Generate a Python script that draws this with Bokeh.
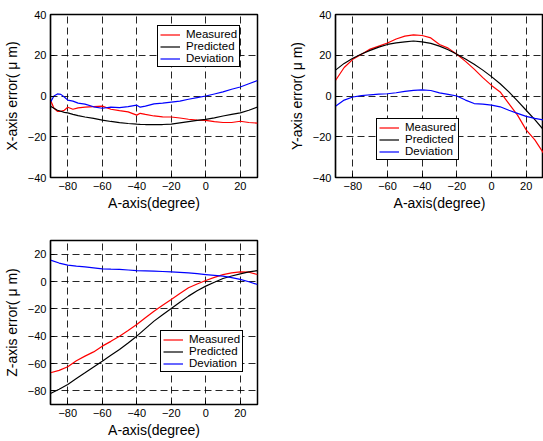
from bokeh.plotting import figure
from bokeh.layouts import column, row
from bokeh.models import Legend, LegendItem, FixedTicker
from bokeh.embed import file_html
from bokeh.resources import INLINE

# ---------------- data ----------------
a_x = [-90, -88, -86, -84, -82, -80, -77, -74, -70, -65, -60, -55, -50, -45, -40, -38, -35, -30, -25,
       -20, -15, -10, -5, 0, 5, 10, 15, 20, 25, 30]
x_measured = [-2, -6, -7.5, -7.5, -7, -5.5, -6.5, -5.8, -5.5, -5.2, -5, -6.5, -7.2, -7.8, -9.4, -8.5, -9, -9.8, -10.2,
              -10.3, -10.8, -11.4, -11.8, -12, -12.6, -13, -13, -12.4, -13, -13.3]
x_predicted = [-5, -6, -7, -7.5, -8, -8.3, -9, -9.6, -10.3, -11, -11.8, -12.5, -13.1, -13.5, -13.8, -13.9, -14, -14, -14,
               -13.8, -13.2, -12.6, -12, -11.5, -10.7, -9.8, -9, -8.3, -7, -5.4]
x_deviation = [-3, 0, 1, 0.8, -0.5, -2, -2.5, -3.5, -4, -5.3, -6, -5.5, -5.7, -5.2, -4.5, -5.5, -5, -3.9, -3.5,
               -3, -2.5, -1.6, -0.8, 0, 1, 2, 3.3, 4.4, 6, 7.6]

a_y = [-90, -85, -80, -75, -70, -65, -60, -55, -50, -45, -40, -35, -30, -25, -20, -15, -10, -5, 0, 5, 10, 15,
       20, 25, 30]
y_measured = [7.6, 14, 18, 20.5, 23, 24.5, 26, 28, 29.4, 30, 29.7, 28.5, 25.3, 23.5, 20.5, 17, 13.2, 9, 5.2, 2,
              -3.7, -9.4, -16.6, -21.5, -28]
y_predicted = [12.7, 16, 18.5, 20.6, 22.4, 24, 25.3, 26.1, 26.6, 27, 26.6, 25.8, 24.5, 22.7, 20.5, 18.2, 15.6, 12.7,
               9.5, 6, 2, -2.4, -7, -11.6, -16.6]
y_deviation = [-5, -2, -0.5, 0.2, 0.6, 0.9, 1.1, 1.6, 2.3, 2.8, 3, 2.7, 1.5, 0.8, 0, -2, -3.7, -4, -4.5, -5.3,
               -7, -8.5, -10, -11, -11.8]

a_z = [-90, -85, -80, -75, -70, -65, -60, -55, -50, -45, -40, -35, -30, -25, -20, -15, -10, -5, 0, 5, 10, 15,
       20, 25, 30]
z_measured = [-66.8, -65, -62.4, -58, -54.6, -51.5, -47.3, -43.8, -40, -35.8, -31.5, -26.5, -21.7, -17.3, -13.2,
              -8.8, -4.6, -1.8, 0.7, 3, 5, 6.3, 7, 6.8, 5.1]
z_predicted = [-82, -78.8, -75.4, -71, -66.8, -62.5, -58.3, -54, -49.8, -45, -40, -34.5, -29, -24.3, -19.8, -15.2,
               -10.7, -6.8, -3.4, -0.5, 2.2, 4, 5.6, 7, 8]
z_deviation = [15.6, 13.5, 12, 11.3, 10.7, 10, 9.3, 9, 8.8, 8.4, 8, 7.8, 7.6, 7.3, 7, 6.7, 6.3, 5.7, 5.1, 4.5,
               3.9, 2.8, 1.5, -0.2, -2.2]

x_ticks = [-80, -60, -40, -20, 0, 20]
series_names = ["Measured", "Predicted", "Deviation"]
series_colors = ["#ff0000", "#000000", "#0000ff"]

FONT = "Liberation Sans"


def make_fig(w, h, borders, yrange, yticks, ylabel, xs, series, legend_loc):
    left, right, top, bottom = borders
    p = figure(width=w, height=h, x_range=(-90, 30), y_range=yrange,
               output_backend="svg", toolbar_location=None,
               min_border_left=left, min_border_right=right,
               min_border_top=top, min_border_bottom=bottom)
    p.background_fill_color = "white"
    p.border_fill_color = "white"
    p.outline_line_color = "black"
    p.outline_line_width = 1.5
    p.outline_line_alpha = 1

    p.xaxis.ticker = FixedTicker(ticks=x_ticks)
    p.yaxis.ticker = FixedTicker(ticks=yticks)
    for ax in (p.xaxis[0], p.yaxis[0]):
        ax.axis_line_color = "black"
        ax.axis_line_width = 1.2
        ax.major_tick_in = 4
        ax.major_tick_out = 0
        ax.minor_tick_line_color = None
        ax.major_label_text_font = FONT
        ax.major_label_text_font_size = "11px"
        ax.major_label_text_color = "black"
        ax.axis_label_text_font = FONT
        ax.axis_label_text_font_size = "14px"
        ax.axis_label_text_font_style = "normal"
        ax.axis_label_text_color = "black"
        ax.major_label_standoff = 4
    p.xaxis.axis_label = "A-axis(degree)"
    p.xaxis.axis_label_standoff = 2
    p.yaxis.axis_label = ylabel
    p.yaxis.axis_label_standoff = 5

    for g in (p.xgrid[0], p.ygrid[0]):
        g.grid_line_color = "black"
        g.grid_line_alpha = 0.85
        g.grid_line_width = 1
        g.grid_line_dash = "7 4"

    items = []
    for name, color, ys in zip(series_names, series_colors, series):
        r = p.line(xs, ys, line_color=color, line_width=1.2)
        items.append(LegendItem(label=name, renderers=[r]))

    legend = Legend(items=items, location=legend_loc)
    legend.border_line_color = "black"
    legend.border_line_width = 1.5
    legend.border_line_alpha = 1
    legend.background_fill_alpha = 1
    legend.label_text_font = FONT
    legend.label_text_font_size = "11.5px"
    legend.label_text_color = "black"
    legend.label_text_line_height = 1.0
    legend.glyph_width = 20
    legend.glyph_height = 11
    legend.label_height = 11
    legend.spacing = 0
    legend.padding = 2
    legend.margin = 0
    legend.label_standoff = 6
    p.add_layout(legend, "center")
    return p


p1 = make_fig(272, 220, (49, 15, 14, 42), (-40, 40), [-40, -20, 0, 20, 40],
              "X-axis error( \u03bc m)", a_x, [x_measured, x_predicted, x_deviation], (107, 110))
p2 = make_fig(271, 220, (63, 0, 14, 43), (-40, 40), [-40, -20, 0, 20, 40],
              "Y-axis error( \u03bc m)", a_y, [y_measured, y_predicted, y_deviation], (41, 17))
p3 = make_fig(272, 221, (49, 15, 20, 37), (-90, 30), [-80, -60, -40, -20, 0, 20],
              "Z-axis error( \u03bc m)", a_z, [z_measured, z_predicted, z_deviation], (110, 32))

layout = column(row(p1, p2), p3)
open("out.html", "w").write(file_html(layout, INLINE))
